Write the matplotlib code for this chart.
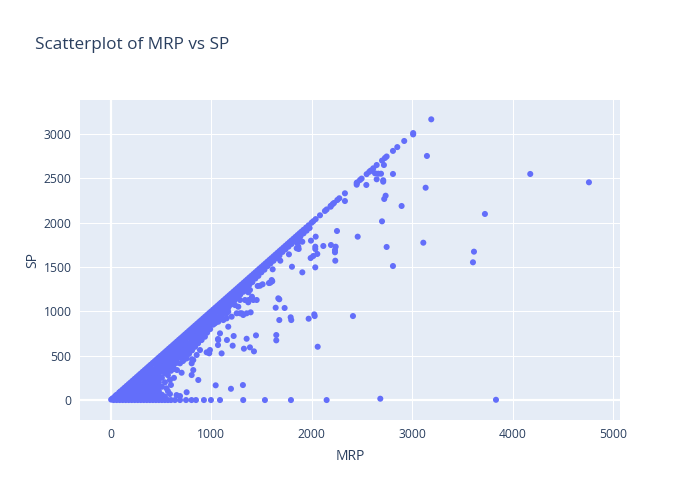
import matplotlib
matplotlib.use("Agg")
import matplotlib.pyplot as plt

# ---------------- data ----------------
# items sold at full price (SP == MRP)
full_price_mrp = [
    5, 20, 45, 60, 85, 99, 120, 140, 160, 180, 199, 220, 240, 260, 280, 299, 320, 340, 360, 380, 399,
    420, 440, 460, 480, 499, 520, 540, 560, 580, 599, 620, 640, 660, 680, 699, 720, 740, 760, 780, 799,
    820, 840, 860, 880, 899, 920, 940, 960, 980, 999, 1020, 1040, 1060, 1080, 1099, 1120, 1140, 1160,
    1180, 1199, 1220, 1240, 1260, 1280, 1299, 1320, 1340, 1360, 1380, 1399, 1420, 1440, 1460, 1480,
    1499, 1520, 1540, 1560, 1580, 1599, 1620, 1640, 1660, 1680, 1699, 1720, 1740, 1760, 1780, 1799,
    1820, 1840, 1860, 1880, 1899, 1920, 1945, 1970, 1999, 2016, 2040, 2083, 2132, 2149, 2189, 2209,
    2222, 2255, 2275, 2331, 2448, 2454, 2481, 2497, 2547, 2573, 2587, 2613, 2700, 2729, 2746, 2809,
    2852, 2921, 3010]

# low-priced discounted items: MRP columns and the SP values seen in each
low_cols = [30, 60, 90, 120, 150, 180, 210, 240, 270, 300, 330, 360, 390, 420, 450, 480]
low_sp = [
    [0, 15],
    [0, 30],
    [0, 35, 65],
    [0, 40, 80],
    [0, 40, 80, 115],
    [0, 45, 90, 135],
    [0, 45, 90, 135, 175],
    [0, 50, 100, 150, 195],
    [0, 50, 100, 150, 200, 235],
    [0, 50, 100, 150, 200, 250],
    [0, 50, 100, 150, 200, 250, 290],
    [0, 50, 100, 150, 200, 250, 300],
    [0, 50, 100, 150, 200, 250, 300, 345],
    [0, 50, 100, 150, 200, 250, 300, 350],
    [0, 50, 100, 150, 200, 250, 300, 350, 400],
    [0, 50, 100, 150, 200, 250, 300, 350, 400, 440],
]

# mildly discounted items forming the band just under the diagonal
band_cols = [510, 540, 570, 600, 630, 660, 690, 720, 750, 780,
             810, 840, 870, 900, 930, 960, 990, 1020, 1050, 1080,
             1110, 1140, 1170, 1200, 1230, 1260, 1290, 1320, 1350, 1380,
             1410, 1440, 1470, 1500, 1530, 1560, 1590, 1620, 1650, 1680,
             1710, 1740, 1770, 1800, 1830, 1860, 1890, 1920, 1950, 1980]
band_sp = [
    [60, 150, 250, 320, 380, 440, 480],
    [40, 200, 300, 350, 400, 450, 500],
    [100, 280, 330, 380, 430, 480, 530],
    [170, 330, 380, 430, 480, 530, 570],
    [250, 350, 400, 450, 500, 550, 600],
    [338, 420, 470, 520, 570, 620],
    [414, 480, 540, 600, 650],
    [440, 500, 560, 620, 680],
    [470, 530, 590, 650, 710],
    [520, 580, 640, 700, 740],
    [460, 560, 620, 680, 740, 770],
    [600, 660, 720, 780, 800],
    [640, 700, 760, 820],
    [680, 740, 800, 860],
    [720, 780, 840, 890],
    [760, 820, 880, 920],
    [800, 860, 920, 950],
    [850, 900, 950, 980],
    [880, 940, 1000],
    [930, 990, 1040],
    [960, 1020, 1070],
    [1000, 1050, 1100],
    [1040, 1090, 1130],
    [1080, 1130, 1160],
    [1120, 1160, 1190],
    [1150, 1190, 1220],
    [1190, 1230, 1250],
    [1230, 1270],
    [1260, 1300],
    [1300, 1340],
    [1330, 1370],
    [1370, 1400],
    [1400, 1430],
    [1440, 1460],
    [1470, 1490],
    [1510, 1520],
    [1540, 1550],
    [1570, 1580],
    [1600],
    [1630],
    [1670],
    [1700],
    [1730],
    [1760],
    [1790],
    [1820],
    [1850],
    [1880],
    [1910],
    [1940],
]

# scattered, more heavily discounted items
scatter_mrp = [
    556, 590, 756, 856, 889, 955, 822, 806, 872, 756, 656, 590, 690, 706,
    988, 856, 772, 822, 806, 905, 938, 1038, 1071, 1104, 1154, 1170, 1254, 1287,
    1270, 1336, 1353, 1237, 1204, 1121, 1088, 1071, 1157, 1224, 1104, 1214, 981,
    1068, 1068, 1045, 1197, 1316, 1021, 988, 1154, 1121, 1170, 1187,
    1446, 1353, 1326, 1386, 1426, 1419, 1453, 1393, 1304, 1319, 1373, 1406, 1512,
    1486, 1463, 1588, 1608, 1575, 1612, 1678, 1731, 1642, 1678, 1791, 1797, 1648,
    1648, 1320, 1270, 1369, 1386, 1602, 1668, 1369, 1287,
    2040, 2116, 2036, 2036, 2056, 2016, 1990, 2036, 1907, 1804, 1688, 1774, 1871,
    1867, 1884, 1907, 1993, 1970, 2026, 2030, 2060, 2192, 2239, 2232, 2232, 2235,
    2252, 2458, 2411, 2189, 2331, 1860, 1851,
    2647, 2712, 2712, 2544, 2690, 2663, 2630, 2809, 2719, 2647, 3147, 3134, 2736,
    2722, 2895, 3724, 4175, 4759, 2700, 2746, 3111, 3615, 3605, 2809, 2448, 3190,
    3010, 2683, 3834]
scatter_sp = [
    132, 226, 470, 677, 564, 538, 338, 282, 226, 88, 56, 68, 45, 308,
    564, 508, 583, 451, 414, 677, 714, 865, 883, 940, 978, 827, 978, 978,
    1052, 1128, 978, 1071, 940, 1015, 752, 677, 677, 722, 526, 613, 527,
    688, 620, 166, 127, 169, 902, 846, 921, 902, 996, 1071,
    729, 691, 579, 594, 549, 1128, 1128, 989, 978, 959, 1128, 1165, 1305,
    1289, 1286, 1323, 1339, 1319, 1474, 1136, 1038, 1041, 902, 933, 902, 733,
    673, 1221, 1165, 1215, 1241, 1353, 1147, 1102, 1128,
    1842, 1737, 1729, 1703, 1647, 1624, 1601, 1496, 1440, 1503, 1571, 1643, 1703,
    1729, 1804, 1785, 1797, 917, 966, 947, 601, 1748, 1729, 1692, 1666, 1571,
    1906, 1842, 947, 2180, 2244, 1767, 1711,
    2489, 2478, 2462, 2425, 2552, 2552, 2557, 2549, 2650, 2650, 2752, 2394, 2304,
    2267, 2188, 2098, 2549, 2455, 2015, 1726, 1774, 1673, 1553, 1511, 2428, 3165,
    2995, 15, 3]

# items listed with SP of 0
zero_mrp = [510, 540, 570, 600, 640, 690, 750, 805, 849, 928, 998, 1088, 1319, 1535, 1794, 2149]
zero_sp = [0] * len(zero_mrp)

x_ticks = [0, 1000, 2000, 3000, 4000, 5000]
y_ticks = [0, 500, 1000, 1500, 2000, 2500, 3000]

# ---------------- assemble ----------------
mrp, sp = [], []
mrp += full_price_mrp
sp += full_price_mrp
for c, vals in zip(low_cols, low_sp):
    mrp += [c] * len(vals)
    sp += vals
for c, vals in zip(band_cols, band_sp):
    mrp += [c] * len(vals)
    sp += vals
mrp += scatter_mrp
sp += scatter_sp
mrp += zero_mrp
sp += zero_sp

# ---------------- plot ----------------
plt.rcParams['font.family'] = ['Open Sans', 'DejaVu Sans']
W, H = 700, 500
fig = plt.figure(figsize=(7, 5), dpi=100)
ax = fig.add_axes([80 / W, 1 - 420 / H, 540 / W, 320 / H])
ax.set_facecolor('#E5ECF6')
for s in ax.spines.values():
    s.set_visible(False)

ax.set_xlim(-305, 5068)
ax.set_ylim(-225, 3383)
ax.set_xticks(x_ticks)
ax.set_yticks(y_ticks)
ax.set_xticklabels([str(t) for t in x_ticks])
ax.set_yticklabels([str(t) for t in y_ticks])
ax.tick_params(length=0, labelsize=8.7, colors='#2a3f5f', pad=6)
ax.grid(True, color='white', linewidth=0.75)
ax.set_axisbelow(True)
ax.axhline(0, color='white', linewidth=1.6, zorder=1)
ax.axvline(0, color='white', linewidth=1.6, zorder=1)

ax.scatter(mrp, sp, s=19, color='#636efa', edgecolors='none', zorder=3)

fig.text(35 / W, 1 - 45 / H, 'Scatterplot of MRP vs SP', fontsize=12.3,
         color='#2a3f5f', ha='left', va='center')
fig.text(350 / W, 1 - 457 / H, 'MRP', fontsize=10, color='#2a3f5f', ha='center', va='center')
fig.text(33 / W, 1 - 260 / H, 'SP', fontsize=10, color='#2a3f5f', ha='center', va='center',
         rotation=90)

fig.savefig('out.png', dpi=100, facecolor='white')
